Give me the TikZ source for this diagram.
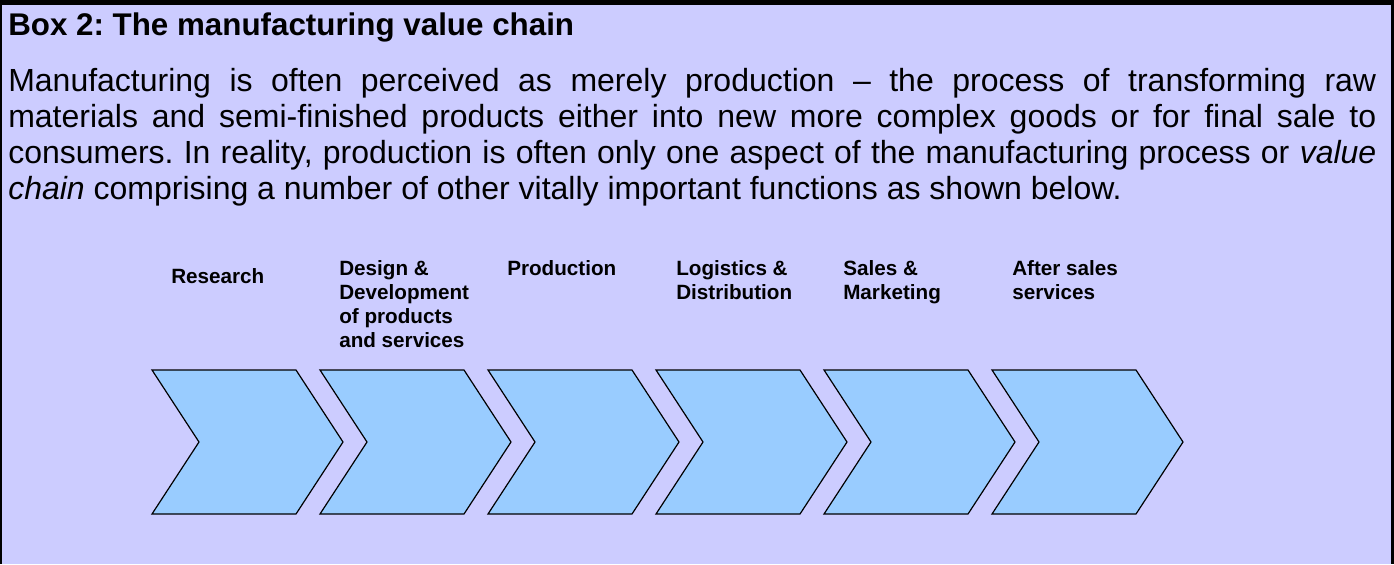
\documentclass[tikz,border=0pt]{standalone}
\usepackage{fontspec}
\setmainfont{Liberation Sans}
\definecolor{boxfill}{HTML}{CCCCFF}
\definecolor{stagefill}{HTML}{99CCFF}
\frenchspacing

\begin{document}
\begin{tikzpicture}[x=0.75pt,y=-0.75pt,
        chevron/.style={draw=black,fill=stagefill,line width=0.9pt,line join=miter},
        stagelabel/.style={anchor=base west,align=left,inner sep=0pt,
            font=\fontsize{15.5}{18}\selectfont\bfseries}
    ]
        % Draw the box
        \fill[boxfill] (0,0) rectangle (1394,564);
        \useasboundingbox (0,0) rectangle (1394,564);
        \draw[line width=3.75pt] (0,2.5) -- (1394,2.5);
        \draw[line width=1.5pt] (1,0) -- (1,564);
        \draw[line width=2.6pt] (1392.3,0) -- (1392.3,564);

        % Title and text
        \node[anchor=base west,inner sep=0pt,font=\fontsize{23.5}{28}\selectfont\bfseries]
            (title) at (8,35) {Box 2: The manufacturing value chain};
        \node[anchor=north west,inner sep=0pt,text width=1026pt,align=justify,
            font=\fontsize{24}{27}\selectfont] (intro) at (8,68)
            {Manufacturing is often perceived as merely production -- the process of transforming raw\linebreak
             materials and semi-finished products either into new more complex goods or for final sale to\linebreak
             consumers. In reality, production is often only one aspect of the manufacturing process or \textit{value}\linebreak
             \textit{chain} comprising a number of other vitally important functions as shown below.};

        % Draw the chevrons
        \foreach \x in {152,320,488,656,824,992}
            \draw[chevron] (\x,370) -- ++(144,0) -- ++(47,72) -- ++(-47,72)
                -- ++(-144,0) -- ++(47,-72) -- cycle;

        % Draw the labels (base = last line)
        \node[stagelabel] (research) at (171,283) {Research};
        \node[stagelabel] (design) at (339,347) {Design \&\\Development\\of products\\and services};
        \node[stagelabel] (production) at (507,275) {Production};
        \node[stagelabel] (logistics) at (676,299) {Logistics \&\\Distribution};
        \node[stagelabel] (sales) at (843,299) {Sales \&\\Marketing};
        \node[stagelabel] (aftersales) at (1012,299) {After sales\\services};
    \end{tikzpicture}
\end{document}
